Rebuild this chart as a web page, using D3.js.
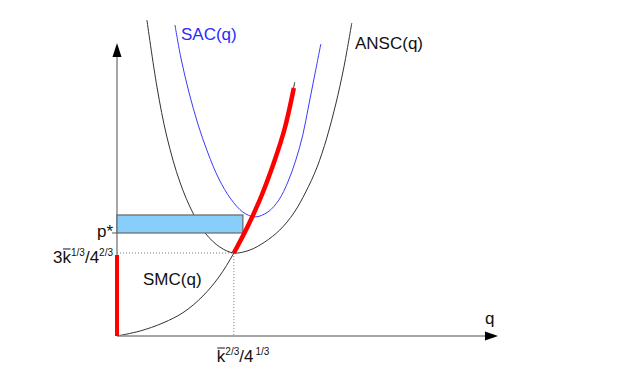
<!DOCTYPE html>
<html>
<head>
<meta charset="utf-8">
<script src="https://cdn.jsdelivr.net/npm/d3@7"></script>
<style>
  body { margin: 0; background: #fff; }
  text { font-family: "Liberation Sans", Arial, sans-serif; }
</style>
</head>
<body>
<div id="my_dataviz"></div>
<script>
// curves, in units where q* = 1 and min ANSC = 1
var anscPoints = [[0.256, 3.807], [0.342, 3.0], [0.427, 2.398], [0.538, 1.855], [0.65, 1.482],
    [0.761, 1.229], [0.88, 1.072], [1.0, 1.0], [1.137, 1.036], [1.265, 1.133], [1.393, 1.277],
    [1.513, 1.482], [1.615, 1.735], [1.709, 2.024], [1.795, 2.386], [1.872, 2.795],
    [1.94, 3.229], [2.009, 3.771]];
var sacPoints = [[0.496, 3.747], [0.547, 3.349], [0.615, 2.94], [0.692, 2.554], [0.778, 2.205],
    [0.872, 1.892], [0.974, 1.651], [1.077, 1.494], [1.179, 1.434], [1.291, 1.494],
    [1.385, 1.639], [1.462, 1.855], [1.53, 2.12], [1.59, 2.422], [1.641, 2.783],
    [1.692, 3.145], [1.744, 3.518]];
var smcPoints = [[0, 0], [0.197, 0.06], [0.393, 0.157], [0.573, 0.289], [0.735, 0.482],
    [0.872, 0.711], [1.0, 1.0], [1.12, 1.325], [1.239, 1.699], [1.35, 2.12],
    [1.436, 2.506], [1.521, 3.06]];
var supplyPoints = [[1.0, 1.0], [1.12, 1.325], [1.239, 1.699], [1.35, 2.12],
    [1.436, 2.506], [1.513, 2.988]];
var shutdownSegment = [[0, 0], [0, 0.976]];
var qStar = 1, pMin = 1, pStar = 1.241, pTop = 1.458, qRect = 1.077;
var qMax = 3.26, pMax = 3.53;

var width = 629, height = 387;

var svg = d3.select("#my_dataviz")
    .append("svg")
    .attr("width", width)
    .attr("height", height);

var x = d3.scaleLinear().domain([0, qMax]).range([117, 498]);
var y = d3.scaleLinear().domain([0, pMax]).range([336, 43]);

var line = d3.line()
    .x(function(d) { return x(d[0]); })
    .y(function(d) { return y(d[1]); })
    .curve(d3.curveCatmullRom.alpha(0.5));

// dotted guides
svg.append("path")
    .attr("d", "M" + x(0) + "," + y(pMin) + "H" + x(qStar) + "V" + y(0))
    .attr("fill", "none")
    .attr("stroke", "#777")
    .attr("stroke-width", 1)
    .attr("stroke-dasharray", "1,2");

// cost curves
svg.append("path").datum(anscPoints)
    .attr("d", line).attr("fill", "none").attr("stroke", "#333").attr("stroke-width", 1);
svg.append("path").datum(sacPoints)
    .attr("d", line).attr("fill", "none").attr("stroke", "#3a3aff").attr("stroke-width", 1);
svg.append("path").datum(smcPoints)
    .attr("d", line).attr("fill", "none").attr("stroke", "#333").attr("stroke-width", 1);

// axes with arrows
svg.append("line")
    .attr("x1", x(0)).attr("y1", y(0)).attr("x2", x(qMax) - 10).attr("y2", y(0))
    .attr("stroke", "#888").attr("stroke-width", 1.5);
svg.append("line")
    .attr("x1", x(0)).attr("y1", y(0)).attr("x2", x(0)).attr("y2", y(pMax) + 12)
    .attr("stroke", "#888").attr("stroke-width", 1.5);
svg.append("path")
    .attr("d", "M" + x(qMax) + "," + y(0) + "l-13,-4.5v9z")
    .attr("fill", "#000");
svg.append("path")
    .attr("d", "M" + x(0) + "," + y(pMax) + "l-4.5,14h9z")
    .attr("fill", "#000");
svg.append("line")
    .attr("x1", x(0) - 5).attr("y1", y(pStar)).attr("x2", x(0)).attr("y2", y(pStar))
    .attr("stroke", "#555").attr("stroke-width", 1);

// profit rectangle
svg.append("rect")
    .attr("x", x(0))
    .attr("y", y(pTop))
    .attr("width", x(qRect) - x(0))
    .attr("height", y(pStar) - y(pTop))
    .attr("fill", "#87cefa")
    .attr("stroke", "#666")
    .attr("stroke-width", 1.2);

// supply curve
svg.append("path").datum(supplyPoints)
    .attr("d", line).attr("fill", "none").attr("stroke", "#ff0000").attr("stroke-width", 4.5);
svg.append("path").datum(shutdownSegment)
    .attr("d", d3.line().x(function(d) { return x(d[0]); }).y(function(d) { return y(d[1]); }))
    .attr("fill", "none").attr("stroke", "#ff0000").attr("stroke-width", 4);

// labels
var fs = 17;
svg.append("text").attr("x", 181).attr("y", 40).attr("font-size", fs)
    .attr("fill", "#2a2aff").text("SAC(q)");
svg.append("text").attr("x", 355).attr("y", 49).attr("font-size", fs)
    .attr("fill", "#111").text("ANSC(q)");
svg.append("text").attr("x", 143).attr("y", 285).attr("font-size", fs)
    .attr("fill", "#111").text("SMC(q)");
svg.append("text").attr("x", x(qMax) - 13).attr("y", y(0) - 12).attr("font-size", fs)
    .attr("fill", "#111").text("q");
svg.append("text").attr("x", x(0) - 4).attr("y", y(pStar) + 4).attr("font-size", fs)
    .attr("text-anchor", "end").attr("fill", "#111").text("p*");

var yLab = svg.append("text").attr("x", x(0) - 4).attr("y", y(pMin) + 10)
    .attr("font-size", fs).attr("text-anchor", "end").attr("fill", "#111");
yLab.append("tspan").text("3k");
yLab.append("tspan").attr("font-size", 10).attr("dy", -7).text("1/3");
yLab.append("tspan").attr("dy", 7).text("/4");
yLab.append("tspan").attr("font-size", 10).attr("dy", -7).text("2/3");

var xLab = svg.append("text").attr("x", x(qStar) - 17).attr("y", y(0) + 26)
    .attr("font-size", fs).attr("fill", "#111");
xLab.append("tspan").text("k");
xLab.append("tspan").attr("font-size", 10).attr("dy", -7).text("2/3");
xLab.append("tspan").attr("dy", 7).text("/4");
xLab.append("tspan").attr("font-size", 10).attr("dy", -7).attr("dx", 2).text("1/3");

// bar over k (k-bar)
function kBar(label, idx) {
    var node = label.node();
    var s = node.getStartPositionOfChar(idx), e = node.getEndPositionOfChar(idx);
    svg.append("line")
        .attr("x1", s.x + 0.5).attr("x2", e.x - 0.5)
        .attr("y1", s.y - 14).attr("y2", s.y - 14)
        .attr("stroke", "#111").attr("stroke-width", 1);
}
kBar(yLab, 1);
kBar(xLab, 0);
</script>
</body>
</html>
